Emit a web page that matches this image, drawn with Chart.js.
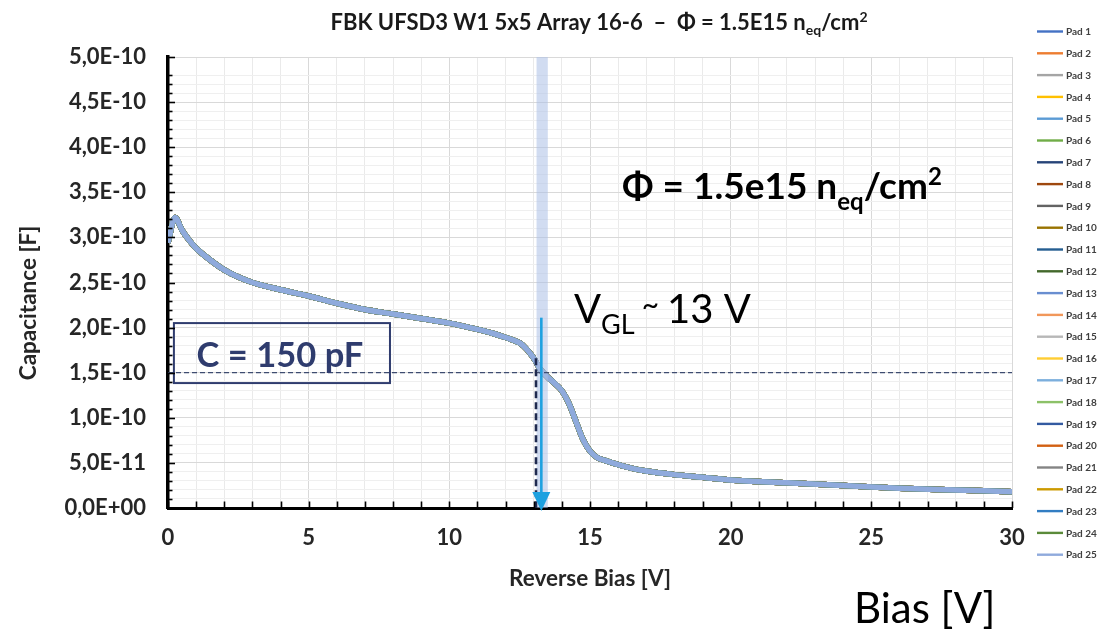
<!DOCTYPE html>
<html>
<head>
<meta charset="utf-8">
<title>FBK UFSD3 W1 5x5 Array 16-6 C-V</title>
<script src="https://cdn.jsdelivr.net/npm/chart.js@4.4.1/dist/chart.umd.min.js"></script>
<style>
  html, body { margin: 0; padding: 0; background: #ffffff; }
  #wrap { width: 1112px; height: 637px; position: relative; }
  canvas { display: block; }
</style>
</head>
<body>
<div id="wrap"><canvas id="cv" width="1112" height="637"></canvas></div>
<script>
// ---- data -------------------------------------------------------------
const padNames = ['Pad 1','Pad 2','Pad 3','Pad 4','Pad 5','Pad 6','Pad 7','Pad 8','Pad 9','Pad 10',
  'Pad 11','Pad 12','Pad 13','Pad 14','Pad 15','Pad 16','Pad 17','Pad 18','Pad 19','Pad 20',
  'Pad 21','Pad 22','Pad 23','Pad 24','Pad 25'];

const padColors = ['#4472C4','#ED7D31','#A5A5A5','#FFC000','#5B9BD5','#70AD47','#264478','#9E480E',
  '#636363','#997300','#255E91','#43682B','#698ED0','#F1975A','#B7B7B7','#FFCD33','#7CAFDD','#8CC168',
  '#335AA1','#D26012','#848484','#CC9A00','#327DC2','#5A8A39','#8FAADC'];

// reverse bias [V]
const biasV = [0, 0.25, 0.5, 0.75, 1, 1.5, 2, 2.5, 3, 4, 5, 6, 7, 8, 9, 10, 11, 11.5, 12, 12.5,
  12.75, 13, 13.25, 13.5, 13.75, 14, 14.25, 14.5, 14.75, 15, 15.25, 15.5, 16, 16.5, 17, 18, 19, 20,
  22, 24, 26, 28, 30];

// capacitance [F], all 25 pads lie on top of each other
const capF = [2.94e-10, 3.22e-10, 3.08e-10, 2.97e-10, 2.88e-10, 2.75e-10, 2.64e-10, 2.56e-10, 2.50e-10,
  2.42e-10, 2.35e-10, 2.27e-10, 2.20e-10, 2.15e-10, 2.10e-10, 2.05e-10, 1.98e-10, 1.94e-10, 1.89e-10,
  1.83e-10, 1.76e-10, 1.66e-10, 1.53e-10, 1.45e-10, 1.38e-10, 1.30e-10, 1.16e-10, 0.96e-10, 0.76e-10,
  0.63e-10, 0.56e-10, 0.53e-10, 0.48e-10, 0.44e-10, 0.41e-10, 0.37e-10, 0.34e-10, 0.31e-10,
  0.28e-10, 0.25e-10, 0.22e-10, 0.20e-10, 0.18e-10];

const xTickLabels = ['0', '5', '10', '15', '20', '25', '30'];
const yTickLabels = ['0,0E+00', '5,0E-11', '1,0E-10', '1,5E-10', '2,0E-10', '2,5E-10',
  '3,0E-10', '3,5E-10', '4,0E-10', '4,5E-10', '5,0E-10'];

// reference values used by the annotations
const capRef = 1.5e-10;          // C = 150 pF
const vCross = 13.08;            // where the curves cross 150 pF
const vGL = 13.27;               // gain-layer depletion voltage
const glBand = [13.1, 13.5];     // highlighted bias window

// ---- helpers ----------------------------------------------------------
const FONT = 'Lato, "Open Sans", "DejaVu Sans", sans-serif';
const isMultiple = (v, step) => Math.abs(v / step - Math.round(v / step)) < 1e-6;

function drawRich(ctx, parts, x, y, align) {
  let total = 0;
  parts.forEach(p => { ctx.font = p.font; p.w = ctx.measureText(p.t).width; total += p.w + (p.gap || 0); });
  let cx = align === 'center' ? x - total / 2 : x;
  parts.forEach(p => {
    ctx.font = p.font;
    ctx.fillText(p.t, cx, y + (p.dy || 0));
    cx += p.w + (p.gap || 0);
  });
}

// ---- annotations, inner tick marks, legend, titles ------------------------------
const decorations = {
  id: 'decorations',
  afterDatasetsDraw(chart) {
    const { ctx, chartArea: a } = chart;
    const xs = chart.scales.x, ys = chart.scales.y;
    ctx.save();

    // highlighted bias window
    const b0 = xs.getPixelForValue(glBand[0]), b1 = xs.getPixelForValue(glBand[1]);
    ctx.fillStyle = 'rgba(172,192,230,0.55)';
    ctx.fillRect(b0, a.top, b1 - b0, a.bottom - a.top);

    // 150 pF reference line
    const yRef = ys.getPixelForValue(capRef);
    ctx.strokeStyle = '#3E4C70';
    ctx.lineWidth = 1.3;
    ctx.setLineDash([5, 3]);
    ctx.beginPath(); ctx.moveTo(a.left, yRef); ctx.lineTo(a.right, yRef); ctx.stroke();

    // drop from the crossing to the bias axis
    const xc = xs.getPixelForValue(vCross);
    ctx.strokeStyle = '#1F2A4F';
    ctx.lineWidth = 2.6;
    ctx.setLineDash([7, 4]);
    ctx.beginPath(); ctx.moveTo(xc, ys.getPixelForValue(1.66e-10)); ctx.lineTo(xc, a.bottom); ctx.stroke();
    ctx.setLineDash([]);

    // arrow marking V_GL
    const xa = xs.getPixelForValue(vGL);
    const yTop = ys.getPixelForValue(2.11e-10);
    ctx.strokeStyle = '#1DA1E0';
    ctx.fillStyle = '#1DA1E0';
    ctx.lineWidth = 2.6;
    ctx.beginPath(); ctx.moveTo(xa, yTop); ctx.lineTo(xa, a.bottom - 12); ctx.stroke();
    ctx.beginPath();
    ctx.moveTo(xa - 9, a.bottom - 16);
    ctx.lineTo(xa + 9, a.bottom - 16);
    ctx.lineTo(xa, a.bottom + 3);
    ctx.closePath(); ctx.fill();

    // "C = 150 pF" box
    const bxL = xs.getPixelForValue(0.21), bxR = xs.getPixelForValue(7.89);
    const byT = ys.getPixelForValue(2.05e-10), byB = ys.getPixelForValue(1.385e-10);
    ctx.strokeStyle = '#2F3C6E';
    ctx.lineWidth = 2;
    ctx.strokeRect(bxL, byT, bxR - bxL, byB - byT);
    ctx.fillStyle = '#2F3C6E';
    ctx.textAlign = 'center';
    ctx.textBaseline = 'alphabetic';
    ctx.font = 'bold 34.5px ' + FONT;
    ctx.fillText('C = 150 pF', (bxL + bxR) / 2 - 2, 367);

    ctx.restore();
  },
  afterDraw(chart) {
    const { ctx, chartArea: a } = chart;
    const xs = chart.scales.x, ys = chart.scales.y;
    ctx.save();

    // inner tick marks
    ctx.strokeStyle = '#000';
    ctx.lineWidth = 1.6;
    ys.ticks.forEach(t => {
      const py = Math.round(ys.getPixelForValue(t.value)) + 0.5;
      const len = isMultiple(t.value, 5e-11) ? 7 : 4.5;
      ctx.beginPath(); ctx.moveTo(a.left, py); ctx.lineTo(a.left + len, py); ctx.stroke();
    });
    xs.ticks.forEach(t => {
      const px = Math.round(xs.getPixelForValue(t.value)) + 0.5;
      ctx.beginPath(); ctx.moveTo(px, a.bottom); ctx.lineTo(px, a.bottom - 6.5); ctx.stroke();
    });

    // chart title
    ctx.fillStyle = '#1A1A1A';
    ctx.textAlign = 'left';
    ctx.textBaseline = 'alphabetic';
    const tf = 'bold 22px ' + FONT, ts = 'bold 14px ' + FONT;
    drawRich(ctx, [
      { t: 'FBK UFSD3 W1 5x5 Array 16-6  \u2013  \u03A6 = 1.5E15 n', font: tf },
      { t: 'eq', font: ts, dy: 5 },
      { t: '/cm', font: tf },
      { t: '2', font: ts, dy: -8 }
    ], 599, 30, 'center');

    // y axis title
    ctx.save();
    ctx.translate(29, 303);
    ctx.rotate(-Math.PI / 2);
    ctx.textAlign = 'center';
    ctx.textBaseline = 'middle';
    ctx.font = 'bold 22.5px ' + FONT;
    ctx.fillStyle = '#262626';
    ctx.fillText('Capacitance [F]', 0, 0);
    ctx.restore();

    // fluence label
    ctx.fillStyle = '#000';
    ctx.textAlign = 'left';
    const ff = 'bold 37px ' + FONT, fs = 'bold 24px ' + FONT;
    drawRich(ctx, [
      { t: '\u03A6 = 1.5e15 n', font: ff },
      { t: 'eq', font: fs, dy: 11 },
      { t: '/cm', font: ff },
      { t: '2', font: fs, dy: -14 }
    ], 622, 199, 'left');

    // V_GL label
    const vf = '40px ' + FONT;
    drawRich(ctx, [
      { t: 'V', font: vf },
      { t: 'GL', font: '27px ' + FONT, dy: 11, gap: 7 },
      { t: '~', font: '30px ' + FONT, dy: -8, gap: 8 },
      { t: '13 V', font: vf }
    ], 574, 323, 'left');

    // bias caption
    ctx.font = '42px ' + FONT;
    ctx.fillText('Bias [V]', 854, 623);

    // legend
    ctx.font = 'bold 10px ' + FONT;
    ctx.textBaseline = 'middle';
    chart.data.datasets.forEach((ds, i) => {
      const ly = 31.5 + i * 21.8;
      ctx.strokeStyle = ds.borderColor;
      ctx.lineWidth = 2.4;
      ctx.beginPath(); ctx.moveTo(1037, ly); ctx.lineTo(1063, ly); ctx.stroke();
      ctx.fillStyle = '#404040';
      ctx.fillText(ds.label, 1066, ly + 0.5);
    });

    ctx.restore();
  }
};

// ---- chart --------------------------------------------------------------
const datasets = padNames.map((name, i) => ({
  label: name,
  data: biasV.map((v, k) => ({ x: v, y: capF[k] })),
  borderColor: padColors[i],
  backgroundColor: padColors[i],
  borderWidth: 5.5,
  pointRadius: 0,
  fill: false,
  cubicInterpolationMode: 'monotone',
  order: padNames.length - 1 - i
}));

new Chart(document.getElementById('cv'), {
  type: 'line',
  data: { datasets },
  options: {
    responsive: false,
    devicePixelRatio: 1,
    animation: false,
    events: [],
    layout: { padding: { top: 57, right: 100, bottom: 0, left: 0 } },
    plugins: { legend: { display: false }, title: { display: false }, tooltip: { enabled: false } },
    scales: {
      x: {
        type: 'linear',
        min: 0, max: 30,
        afterFit: s => { s.height = 129; },
        border: { display: true, color: '#000', width: 3 },
        grid: {
          drawTicks: false,
          lineWidth: 1,
          color: c => (c.tick && isMultiple(c.tick.value, 5)) ? '#D9D9D9' : '#EAEAEA'
        },
        ticks: {
          stepSize: 1,
          autoSkip: false,
          maxRotation: 0,
          padding: 17,
          color: '#262626',
          font: { family: FONT, size: 22, weight: 'bold' },
          callback: v => isMultiple(v, 5) ? xTickLabels[Math.round(v / 5)] : ''
        },
        title: {
          display: true,
          text: 'Reverse Bias [V]',
          color: '#262626',
          font: { family: FONT, size: 22.5, weight: 'bold' },
          padding: { top: 0, bottom: 45 }
        }
      },
      y: {
        type: 'linear',
        min: 0, max: 5e-10,
        afterFit: s => { s.width = 168; },
        border: { display: true, color: '#000', width: 3.5 },
        grid: {
          drawTicks: false,
          lineWidth: 1,
          color: c => (c.tick && isMultiple(c.tick.value, 5e-11)) ? '#D9D9D9' : '#EFEFEF'
        },
        ticks: {
          stepSize: 1e-11,
          autoSkip: false,
          padding: 22,
          color: '#262626',
          font: { family: FONT, size: 22, weight: 'bold' },
          callback: v => isMultiple(v, 5e-11) ? yTickLabels[Math.round(v / 5e-11)] : ''
        }
      }
    }
  },
  plugins: [decorations]
});
</script>
</body>
</html>
